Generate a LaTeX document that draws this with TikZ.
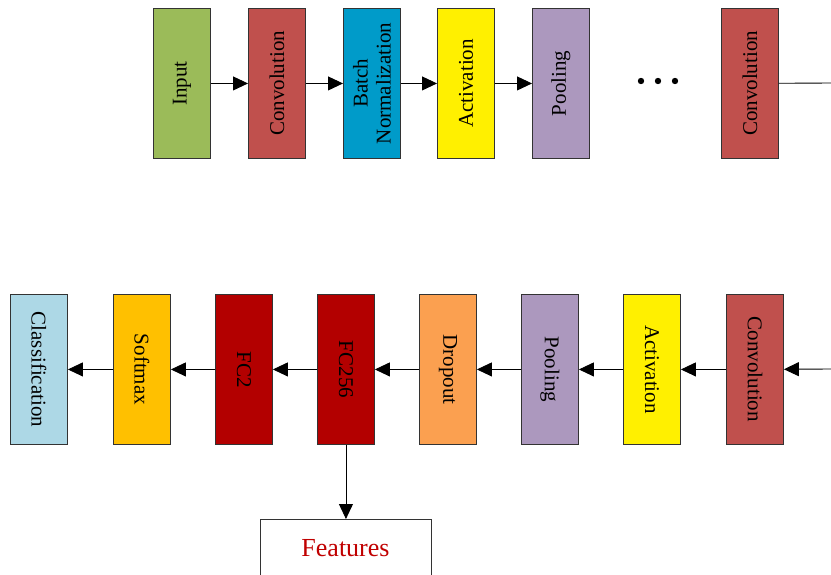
\documentclass[tikz,border=0pt]{standalone}
\usepackage{fontspec}
\setmainfont{Liberation Serif}
\usetikzlibrary{arrows.meta}
\definecolor{cinput}{HTML}{9BBB59}
\definecolor{cconv}{HTML}{C0504D}
\definecolor{cbn}{HTML}{009BC9}
\definecolor{cact}{HTML}{FFF000}
\definecolor{cpool}{HTML}{AC98BE}
\definecolor{cclass}{HTML}{ADD8E6}
\definecolor{csoft}{HTML}{FFC000}
\definecolor{cfc}{HTML}{B30000}
\definecolor{cdrop}{HTML}{FBA050}
\definecolor{cfeat}{HTML}{C00000}
\tikzset{
  layer/.style={draw=black!80, line width=0.9pt, minimum width=57pt, minimum height=150pt, inner sep=0pt, anchor=north west},
  lbl/.style={font=\fontsize{21}{23}\selectfont, inner sep=0pt},
  conn/.style={line width=0.9pt, -{Triangle[length=15pt,width=14pt]}},
  plain/.style={line width=0.9pt}
}
\begin{document}
\begin{tikzpicture}[x=1pt,y=-1pt]
\useasboundingbox (0,0) rectangle (831,575);
% top row (text reads bottom to top)
\node[layer, fill=cinput] (in) at (153,8) {};
\node[lbl, rotate=90] at (in.center) {Input};
\node[layer, fill=cconv] (c1) at (248,8) {};
\node[lbl, rotate=90] at (c1.center) {Convolution};
\node[layer, fill=cbn] (bn) at (343,8) {};
\node[lbl, rotate=90, align=center, font=\fontsize{21}{23}\selectfont] at (bn.center) {Batch\\Normalization};
\node[layer, fill=cact] (a1) at (437,8) {};
\node[lbl, rotate=90] at (a1.center) {Activation};
\node[layer, fill=cpool] (p1) at (532,8) {};
\node[lbl, rotate=90] at (p1.center) {Pooling};
\fill (641,81) circle (3.2) (658,81) circle (3.2) (675,81) circle (3.2);
\node[layer, fill=cconv] (c2) at (721,8) {};
\node[lbl, rotate=90] at (c2.center) {Convolution};
\coordinate (e1) at (831,83);
\draw[conn] (in) -- (c1);
\draw[conn] (c1) -- (bn);
\draw[conn] (bn) -- (a1);
\draw[conn] (a1) -- (p1);
\draw[plain] (c2) -- (e1);
% bottom row (text reads top to bottom)
\node[layer, fill=cclass] (cl) at (10,294) {};
\node[lbl, rotate=-90] at (cl.center) {Classification};
\node[layer, fill=csoft] (sm) at (113,294) {};
\node[lbl, rotate=-90] at (sm.center) {Softmax};
\node[layer, fill=cfc] (fc2) at (215,294) {};
\node[lbl, rotate=-90] at (fc2.center) {FC2};
\node[layer, fill=cfc] (fc256) at (317,294) {};
\node[lbl, rotate=-90] at (fc256.center) {FC256};
\node[layer, fill=cdrop] (dr) at (419,294) {};
\node[lbl, rotate=-90] at (dr.center) {Dropout};
\node[layer, fill=cpool] (p2) at (521,294) {};
\node[lbl, rotate=-90] at (p2.center) {Pooling};
\node[layer, fill=cact] (a2) at (623,294) {};
\node[lbl, rotate=-90] at (a2.center) {Activation};
\node[layer, fill=cconv] (c3) at (726,294) {};
\node[lbl, rotate=-90] at (c3.center) {Convolution};
\coordinate (e2) at (831,369);
\draw[conn] (e2) -- (c3);
\draw[conn] (c3) -- (a2);
\draw[conn] (a2) -- (p2);
\draw[conn] (p2) -- (dr);
\draw[conn] (dr) -- (fc256);
\draw[conn] (fc256) -- (fc2);
\draw[conn] (fc2) -- (sm);
\draw[conn] (sm) -- (cl);
% features
\node[draw=black!80, line width=0.9pt, minimum width=171pt, minimum height=70pt, inner sep=0pt, anchor=north west] (feat) at (260,519) {};
\node[text=cfeat, font=\fontsize{26}{28}\selectfont] at (345.5,548) {Features};
\draw[conn] (fc256) -- (fc256 |- feat.north);
\end{tikzpicture}
\end{document}
